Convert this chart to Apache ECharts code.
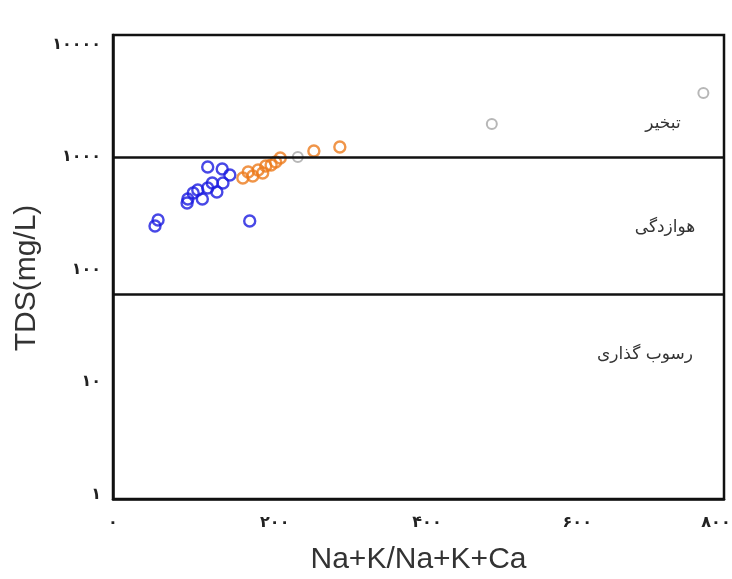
<!DOCTYPE html>
<html><head><meta charset="utf-8">
<script src="https://cdn.jsdelivr.net/npm/echarts@6/dist/echarts.min.js"></script>
<style>html,body{margin:0;padding:0;background:#fff;overflow:hidden}#c{width:732px;height:579px}</style>
</head><body><div id="c"></div>
<script>
// Blue group (Na+K/Na+K+Ca, TDS)
const blueX = [124, 143, 153, 144, 130, 124, 111, 105, 98, 97, 117, 136, 59, 55, 179];
const blueY = [815, 782, 692, 588, 588, 531, 509, 479, 424, 390, 424, 489, 276, 244, 270];
// Orange group
const orangeX = [170, 177, 183, 190, 196, 200, 207, 213, 219, 263, 297];
const orangeY = [651, 736, 678, 767, 721, 832, 849, 904, 980, 1130, 1227];
// Gray group
const grayX = [242, 496, 773];
const grayY = [1000, 1960, 3700];
// Boundary lines (TDS)
const boundaryLines = [1000, 60];
// Tick values
const xTickValues = [0, 200, 400, 600, 800];
const yTickValues = [1, 10, 100, 1000, 10000];
// Texts
const zoneLabels = ['تبخیر', 'هوازدگی', 'رسوب گذاری'];
const xAxisTitle = 'Na+K/Na+K+Ca';
const yAxisTitle = 'TDS(mg/L)';

function fa(n){ return String(n).replace(/\d/g, d => '۰۱۲۳۴۵۶۷۸۹'[d]); }
function pairs(xs, ys){ return xs.map((x,i)=>[x, ys[i]]); }

const chart = echarts.init(document.getElementById('c'), null, {renderer:'canvas'});
const ringStyle = (c, w) => ({ color:'rgba(255,255,255,0)', borderColor:c, borderWidth:w });
const zoneText = (t, x, y) => ({ type:'text', x:x, y:y, z:10,
  style:{ text:t, fontFamily:'DejaVu Sans', fontSize:17, fill:'#333', textAlign:'center', textVerticalAlign:'middle' } });
const tickFont = { fontFamily:'DejaVu Sans', fontSize:16, fontWeight:'bold', color:'#222' };
chart.setOption({
  backgroundColor:'#ffffff',
  animation:false,
  grid:{ left:113, right:8, top:35, bottom:80, outerBoundsMode:'none', containLabel:false,
    show:true, borderColor:'#111', borderWidth:2.5, backgroundColor:'transparent' },
  xAxis:{
    type:'value', min:0, max:800, interval:200,
    name:xAxisTitle, nameLocation:'middle', nameGap:46,
    nameTextStyle:{ fontFamily:'Liberation Sans', fontSize:30, color:'#333' },
    axisLine:{ show:true, lineStyle:{ color:'#111', width:2.5 } },
    axisTick:{ show:false }, splitLine:{ show:false },
    axisLabel:Object.assign({ margin:16, hideOverlap:false,
      formatter: v => { const i = xTickValues.indexOf(v); return i < 0 ? '' : '{t' + i + '|' + fa(v) + '}'; },
      rich:{
        t0:Object.assign({ padding:[0,0,0,0] }, tickFont),
        t1:Object.assign({ padding:[0,0,0,18] }, tickFont),
        t2:Object.assign({ padding:[0,0,0,17] }, tickFont),
        t3:Object.assign({ padding:[0,0,0,12] }, tickFont),
        t4:Object.assign({ padding:[0,16,0,0] }, tickFont)
      } }, tickFont)
  },
  yAxis:{
    type:'log', logBase:10, min:0.918, max:12120,
    name:yAxisTitle, nameLocation:'middle', nameGap:71, nameRotate:90,
    nameTextStyle:{ fontFamily:'Liberation Sans', fontSize:30, color:'#333', padding:[0,22,0,0] },
    axisLine:{ show:true, lineStyle:{ color:'#111', width:2.5 } },
    axisTick:{ show:false }, splitLine:{ show:false },
    axisLabel:Object.assign({ margin:12, showMinLabel:false, showMaxLabel:false,
      formatter: v => { const r = yTickValues.find(t => Math.abs(Math.log10(v) - Math.log10(t)) < 1e-6); return r ? fa(r) : ''; } }, tickFont)
  },
  graphic:[
    zoneText(zoneLabels[0], 663, 124),
    zoneText(zoneLabels[1], 665, 228),
    zoneText(zoneLabels[2], 645, 355)
  ],
  series:[
    { type:'scatter', name:'blue', data:pairs(blueX, blueY), symbol:'circle', symbolSize:11,
      itemStyle:ringStyle('#1a1ae0', 2.4), z:3,
      markLine:{ silent:true, symbol:'none', label:{show:false},
        lineStyle:{ color:'#111', width:2.5, type:'solid' },
        data: boundaryLines.map(v => ({ yAxis:v })) } },
    { type:'scatter', name:'orange', data:pairs(orangeX, orangeY), symbol:'circle', symbolSize:11,
      itemStyle:ringStyle('#ec7a1c', 2.4), z:3 },
    { type:'scatter', name:'gray', data:pairs(grayX, grayY), symbol:'circle', symbolSize:10,
      itemStyle:ringStyle('#a5a5a5', 2), z:3 }
  ]
});
</script></body></html>
